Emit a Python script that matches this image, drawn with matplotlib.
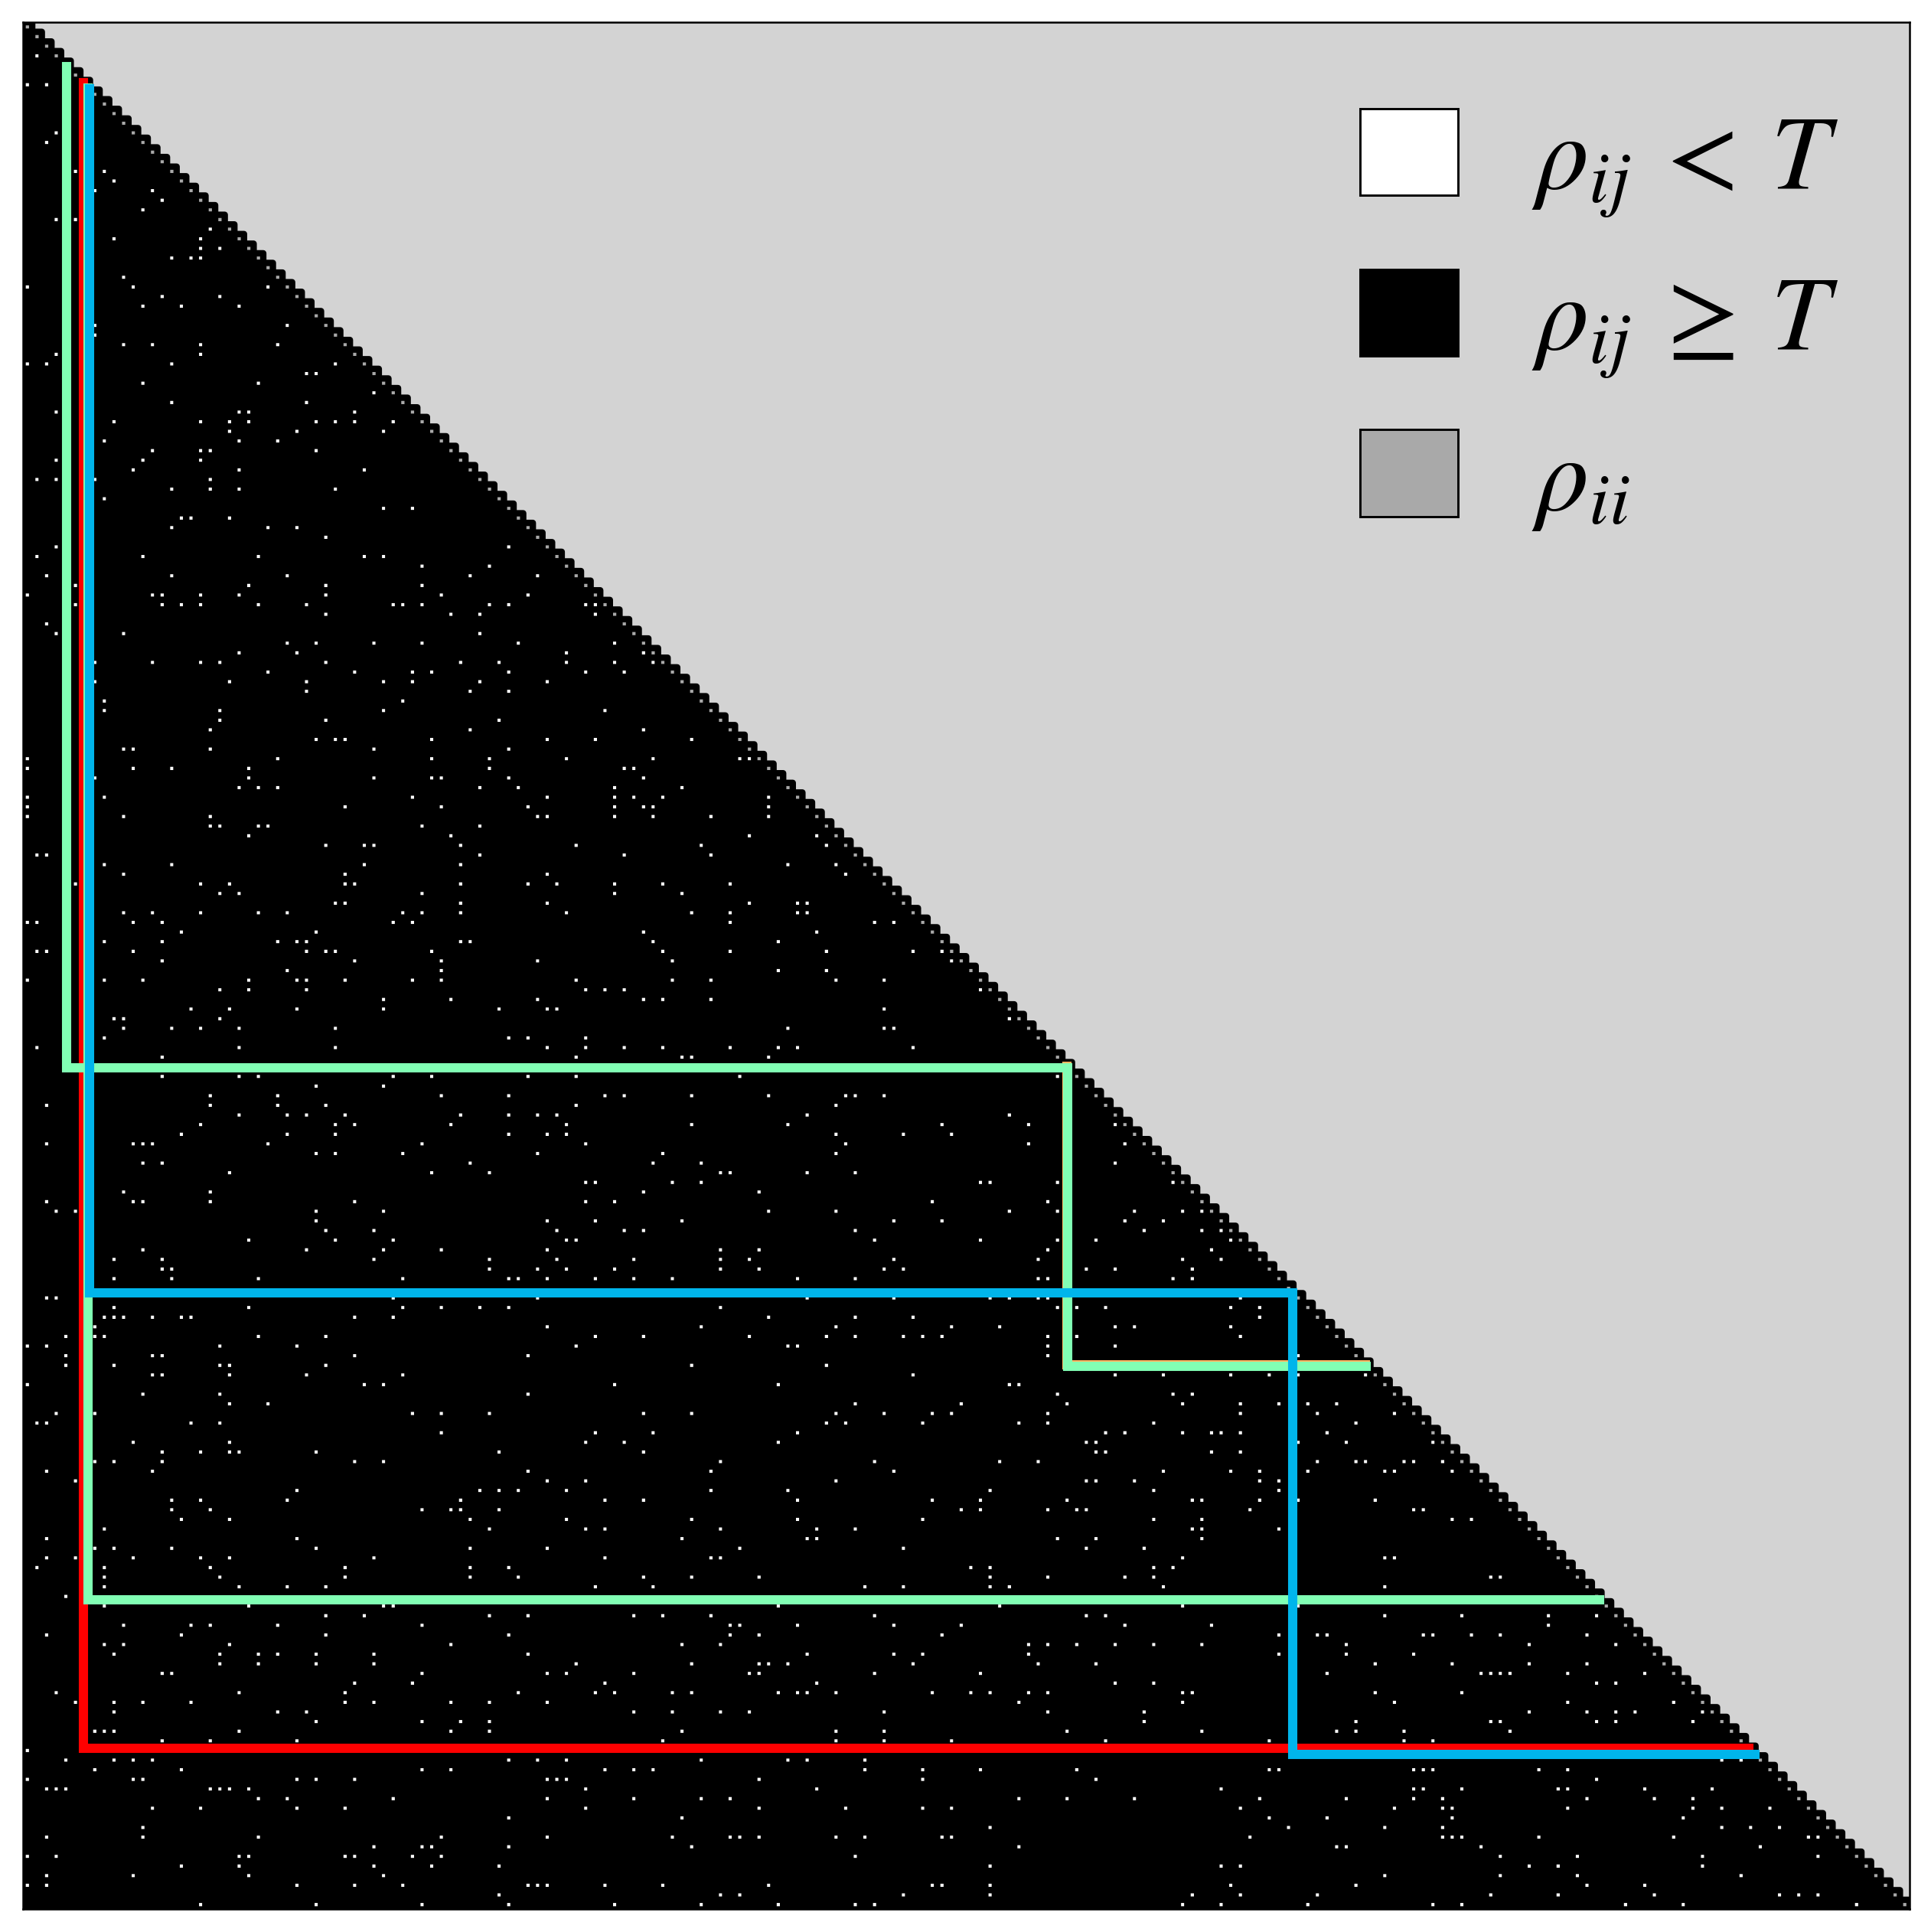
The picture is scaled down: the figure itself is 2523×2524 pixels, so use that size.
import numpy as np
import matplotlib

matplotlib.use("Agg")
import matplotlib.pyplot as plt
from matplotlib.colors import ListedColormap, BoundaryNorm
from matplotlib.patches import Patch

plt.rcParams["mathtext.fontset"] = "stix"

N_ASSETS = 196

# row -> columns (below the diagonal) where rho_ij < T, everything else is >= T
white_top = {
    3: [1], 6: [0, 2], 11: [3], 12: [2], 15: [5, 8], 16: [9], 17: [7, 13],
    18: [14], 19: [12], 20: [3, 5], 21: [19], 22: [9, 18], 23: [18, 20],
    24: [15, 17, 18], 26: [10], 27: [0, 11, 25], 28: [14, 20], 29: [12, 16, 22],
    31: [7, 27], 32: [7], 33: [10, 13, 18, 26], 34: [3, 18], 35: [0, 2, 15, 32],
    36: [29, 30], 37: [12, 24], 38: [36], 39: [15, 29], 40: [3, 22, 23, 34],
    41: [9, 18, 21, 23, 30, 32, 34, 38], 42: [21, 28, 37], 43: [8, 22, 26],
    44: [13, 18, 19, 30], 45: [3, 12, 18], 46: [11, 22, 35], 47: [1, 3, 7, 19],
    48: [15, 19, 22, 32], 49: [8], 50: [37, 40], 51: [16, 17, 21], 52: [15, 25, 28],
    53: [31], 54: [3, 50], 55: [1, 12, 24, 35, 37], 56: [41, 48],
    57: [2, 15, 27, 46, 53], 58: [5, 23, 31, 41], 59: [0, 13, 14, 18, 22, 31, 43, 52],
    60: [5, 14, 16, 18, 24, 29, 38, 39, 41, 48, 50, 58, 59], 61: [31, 44, 47, 59],
    62: [2], 63: [3, 10, 47], 64: [27, 30, 36, 41, 51, 61],
}

white_mid = {
    65: [22, 28, 56, 64], 66: [7, 13, 18, 20, 31, 45, 49, 56, 61, 65],
    67: [25, 34, 40, 42, 50, 58, 62], 68: [7, 21, 29, 37, 40, 47, 54],
    69: [29, 46, 50], 70: [8, 39], 71: [8, 20, 37, 60], 72: [20, 31, 49],
    73: [19, 46, 64], 74: [30, 32, 33, 42, 54, 59, 69], 75: [10, 11, 19, 36, 50],
    76: [0, 26, 42, 48, 56, 65, 74, 75], 77: [0, 11, 15, 23, 48, 62, 63],
    78: [7, 23, 36, 42, 43, 50, 64], 79: [22, 24, 26, 47, 51, 61, 68],
    80: [0, 8, 40, 54, 61, 63, 66, 77], 81: [0, 33, 43, 52, 61, 64, 65, 77],
    82: [0, 10, 19, 53, 54, 61, 65, 71, 77], 83: [19, 20, 24, 25, 41, 47],
    84: [23, 44, 75, 82], 85: [31, 35, 36, 45, 57, 70, 83], 86: [1, 2, 47, 62, 71],
    87: [8, 15, 35, 45, 79, 84], 88: [10, 33, 54, 85],
    89: [5, 18, 21, 33, 34, 45, 52, 55, 61, 66, 73], 90: [20, 22, 41, 61, 68],
    91: [32, 33, 45, 54, 75, 80, 81],
    92: [10, 13, 18, 24, 27, 39, 41, 45, 56, 69, 73, 80, 81],
    93: [0, 1, 11, 14, 38, 40, 73, 88, 90], 94: [16, 30, 64, 82],
    95: [8, 14, 26, 28, 29, 45, 46, 65, 78],
    96: [1, 2, 11, 29, 31, 32, 42, 66, 73, 83, 92, 95], 97: [14, 34, 43, 53, 67, 96],
    98: [27, 43, 78, 83], 99: [0, 8, 12, 23, 28, 29, 33, 40, 43, 57, 67, 71, 84, 89],
    100: [20, 23, 29, 58, 60, 62, 99], 101: [37, 44, 53, 64, 66, 71],
    102: [17, 21, 28, 37, 49, 54, 55, 89], 103: [9, 10, 20, 102],
    104: [10, 15, 18, 22, 32, 79, 89, 90], 105: [8, 50, 52, 58],
    106: [1, 22, 32, 54, 58, 62, 66, 73, 78, 80, 92], 107: [14, 57, 68, 69, 77],
    109: [14, 22, 24, 38, 42, 52, 57, 74, 107], 110: [30, 37],
    111: [19, 26, 43, 50, 60, 62, 69, 77, 85, 86, 89], 112: [2, 19, 26, 31, 57, 84],
    113: [22, 27, 29, 33, 45, 50, 53, 55, 81, 102],
    114: [18, 32, 34, 44, 56, 69, 79, 95, 104, 113],
    115: [16, 27, 32, 50, 54, 56, 84, 91, 96],
    116: [2, 11, 12, 13, 25, 41, 58, 85, 104, 114], 117: [30, 32, 39, 53, 66, 84],
    118: [12, 14, 46, 65, 70, 113], 119: [21, 42, 48, 72, 73, 81, 86],
    120: [58, 59, 67, 70, 99, 100, 107, 119], 121: [10, 19, 64, 76],
    122: [2, 11, 12, 19, 34, 58, 61, 94, 106],
    123: [3, 5, 30, 37, 77, 84, 102, 107, 115, 120, 122],
    124: [30, 54, 59, 68, 90, 95, 114, 118],
    125: [31, 36, 55, 62, 64, 86, 116, 122, 124],
    126: [23, 32, 38, 56, 57, 88, 99, 107, 111, 125],
    127: [12, 29, 37, 43, 54, 72, 76, 106, 123],
    128: [9, 14, 36, 48, 55, 63, 72, 75, 90, 105, 120, 124],
    129: [14, 15, 48, 53, 56, 61, 72, 76, 89, 91, 110, 113, 121],
}

white_bottom = {
    130: [9, 15, 24, 39, 50, 51, 54, 59, 63, 67, 80, 86, 105, 106, 119, 121],
    132: [2, 3, 38, 53, 81, 90, 100, 102, 105, 106, 126],
    133: [9, 23, 39, 43, 47, 50, 72, 107, 109, 112, 125, 128],
    134: [8, 9, 10, 13, 16, 17, 34, 38, 77, 86, 92, 128],
    135: [7, 54, 70, 84, 96, 101, 113, 115, 125],
    136: [4, 7, 8, 24, 31, 59, 64, 75, 83, 86, 91, 93, 95, 106, 109, 126],
    137: [0, 2, 20, 28, 57, 79, 80, 106, 113],
    138: [4, 13, 14, 34, 52, 106, 132],
    139: [4, 9, 20, 21, 31, 69, 83],
    140: [13, 14, 21, 29, 39, 92, 113, 118, 125, 129, 132, 139],
    141: [0, 35, 37, 61, 78, 102, 103],
    142: [12, 20, 52, 107, 119, 121],
    143: [21, 25, 86, 97, 108, 120, 126, 130, 133, 136],
    144: [3, 7, 40, 43, 48, 64, 69, 84, 89, 94, 96, 106, 126, 134, 142],
    145: [1, 2, 17, 20, 83, 85, 93, 103, 106, 117, 138],
    146: [43, 59, 65, 80, 112, 114, 120, 123, 124, 126, 135],
    147: [11, 21, 58, 62, 78, 110, 111, 132, 137, 146],
    148: [14, 18, 21, 22, 30, 49, 64, 111, 112, 123, 126],
    149: [7, 9, 14, 34, 37, 72, 88, 101, 105, 134, 138, 139, 143, 144, 147],
    150: [2, 13, 52, 71, 90, 118, 125, 128, 133, 141, 142, 148],
    151: [5, 54, 58, 84, 110, 111, 115, 128, 130],
    152: [28, 47, 49, 51, 56, 71, 79, 100, 117, 130],
    153: [15, 18, 27, 45, 60, 64, 80, 94, 99, 108, 121, 122, 128, 132, 140],
    154: [15, 19, 41, 44, 45, 49, 97, 99, 106, 109, 110, 127, 144, 145],
    155: [16, 21, 46, 56, 69, 80, 93, 117, 122, 148, 150],
    156: [8, 48, 58, 60, 72, 82, 86, 121, 122, 130],
    157: [2, 28, 68, 81, 82, 107, 111, 122],
    158: [7, 9, 15, 30, 46, 54, 74, 91, 110, 116],
    159: [2, 5, 11, 18, 21, 36, 60, 71, 72, 120, 141, 142],
    160: [1, 8, 19, 33, 46, 50, 98, 100, 117, 119],
    161: [8, 20, 33, 46, 51, 64, 69, 76, 100, 106, 114, 117, 152, 153],
    162: [8, 22, 27, 31, 59, 65, 87, 91, 100, 102, 118, 141],
    163: [4],
    164: [8, 23, 37, 38, 78, 101, 120, 132],
    165: [31, 35, 48, 52, 63, 66, 71, 88, 110, 112, 141, 149, 158, 163],
    166: [10, 17, 19, 26, 41, 73, 74, 80, 90, 97, 114, 123, 158],
    167: [2, 16, 31, 50, 73, 76, 95, 130, 134, 135, 145, 146, 150, 153, 162],
    168: [8, 10, 21, 44, 68, 72, 104, 106, 109, 113, 117, 122, 137, 156, 165],
    169: [9, 20, 24, 26, 30, 36, 52, 81, 90, 93, 104, 130, 137, 144],
    170: [20, 24, 30, 36, 57, 69, 76, 77, 79, 92, 105, 111, 140, 148, 156, 162],
    171: [14, 15, 41, 54, 56, 63, 75, 76, 88, 99, 135, 151, 152, 153, 154, 160, 168],
    172: [34, 40, 60, 82, 113, 117, 163, 165],
    173: [3, 22, 33, 51, 59, 61, 67, 69, 78, 80, 81, 84, 94, 98, 100, 104, 106,
          120, 121, 140, 149],
    174: [5, 9, 12, 17, 33, 36, 44, 48, 54, 103, 120, 142, 160, 171],
    175: [9, 26, 29, 63, 67, 72, 75, 89, 106, 116, 156, 162, 165, 167, 174],
    176: [30, 41, 45, 48, 116, 138, 152, 153, 163, 165, 173],
    177: [7, 8, 9, 22, 44, 48, 68, 84, 89, 108, 122, 136, 138, 143, 154],
    178: [14, 19, 28, 66, 84, 89, 96, 112, 129, 143, 146],
    179: [0],
    180: [4, 9, 11, 13, 50, 53, 56, 70, 79, 81, 87, 176, 178],
    181: [7, 16, 41, 44, 60, 63, 65, 87, 93, 99, 109, 129, 130, 144, 145, 146,
          157, 160],
    182: [0, 11, 12, 28, 30, 34, 54, 55, 56, 76, 93, 111, 163],
    183: [2, 3, 4, 19, 20, 21, 23, 58, 82, 124, 144, 145, 149, 159, 160, 168, 175],
    184: [24, 27, 38, 54, 63, 70, 73, 103, 108, 115, 128, 137, 144, 147, 162,
          169, 173],
    185: [13, 18, 28, 33, 58, 76, 85, 93, 96, 126, 142, 147, 148, 160, 173, 176,
          181],
    186: [50, 68, 129, 135, 148, 172],
    187: [12, 100, 131, 141, 147, 176, 179, 182],
    188: [2, 12, 24, 43, 54, 67, 73, 74, 76, 84, 87, 95, 96, 127, 147, 148, 149,
          157, 171, 185, 186],
    189: [36, 41, 42, 50, 69, 103, 136, 137, 151, 180],
    190: [0, 3, 22, 23, 33, 34, 40, 43, 86, 153, 161, 174, 186],
    191: [16, 22, 36, 42, 49, 100, 124, 126, 156, 159, 174],
    192: [2, 11, 23, 37, 141, 153, 161, 178],
    193: [0, 2, 28, 34, 39, 52, 53, 54, 60, 66, 77, 94, 95, 100, 125, 138, 162, 168],
    194: [49, 72, 74, 91, 100, 121, 126, 134, 152, 159, 169, 182, 184, 186],
    195: [18, 30, 41, 50, 61, 70, 78, 86, 88, 120, 124, 133, 146, 149, 166, 172, 190],
}

# chains of assets drawn as step paths (diagonal node indices), bottom to top
path_nodes = [
    [108, 139],
    [6, 179],
    [4, 108, 139],
    [6, 163],
    [6, 131, 179],
]
path_cmap_pos = [0.75, 1.0, 0.5, 0.5, 0.25]
path_shift = [-0.05, -0.22, 0.08, 0.32, 0.44]

legend_labels = [r"$\rho_{ij}\:<\:T$", r"$\rho_{ij}\:\geq\:T$", r"$\rho_{ii}$"]
legend_colors = ["white", "black", "darkgray"]


def build_matrix():
    mat = np.ones((N_ASSETS, N_ASSETS))
    for block in (white_top, white_mid, white_bottom):
        for row, cols in block.items():
            mat[row, cols] = 0
    np.fill_diagonal(mat, 2)
    upper = np.triu(np.ones_like(mat, dtype=bool), k=1)
    return np.ma.masked_array(mat, mask=upper)


def step_path(nodes, shift):
    pts = [n + 0.5 + shift for n in nodes]
    xs, ys = [pts[0]], [pts[0]]
    for a, b in zip(pts[:-1], pts[1:]):
        xs += [a, b]
        ys += [b, b]
    return xs, ys


W, H = 2523, 2524
fig = plt.figure(figsize=((W + 0.5) / 300, (H + 0.5) / 300), dpi=300)
ax = fig.add_axes([29.5 / W, 29.5 / H, 2465 / W, 2465 / H])
ax.set_facecolor("lightgray")

cmap = ListedColormap(["white", "black", "darkgray"])
norm = BoundaryNorm([-0.5, 0.5, 1.5, 2.5], cmap.N)
ax.pcolor(build_matrix(), cmap=cmap, norm=norm, edgecolors="black", linewidth=2.0)

rainbow = plt.get_cmap("rainbow")
for k, (nodes, pos, shift) in enumerate(zip(path_nodes, path_cmap_pos, path_shift)):
    xs, ys = step_path(nodes, shift)
    ax.plot(xs, ys, color=rainbow(pos), linewidth=2.9,
            solid_capstyle="projecting", solid_joinstyle="miter", zorder=3 + 0.1 * k)

ax.set_xlim(0, N_ASSETS)
ax.set_ylim(N_ASSETS, 0)
ax.set_xticks([])
ax.set_yticks([])
for spine in ax.spines.values():
    spine.set_linewidth(0.6)

handles = [Patch(facecolor=c, edgecolor="black", linewidth=0.7) for c in legend_colors]
ax.legend(handles, legend_labels, loc="upper left", bbox_to_anchor=(0.7087, 0.9542),
          frameon=False, fontsize=33, handlelength=0.93, handleheight=0.89,
          handletextpad=0.7, labelspacing=0.475, borderpad=0, borderaxespad=0)

fig.savefig("out.png", dpi=300)
